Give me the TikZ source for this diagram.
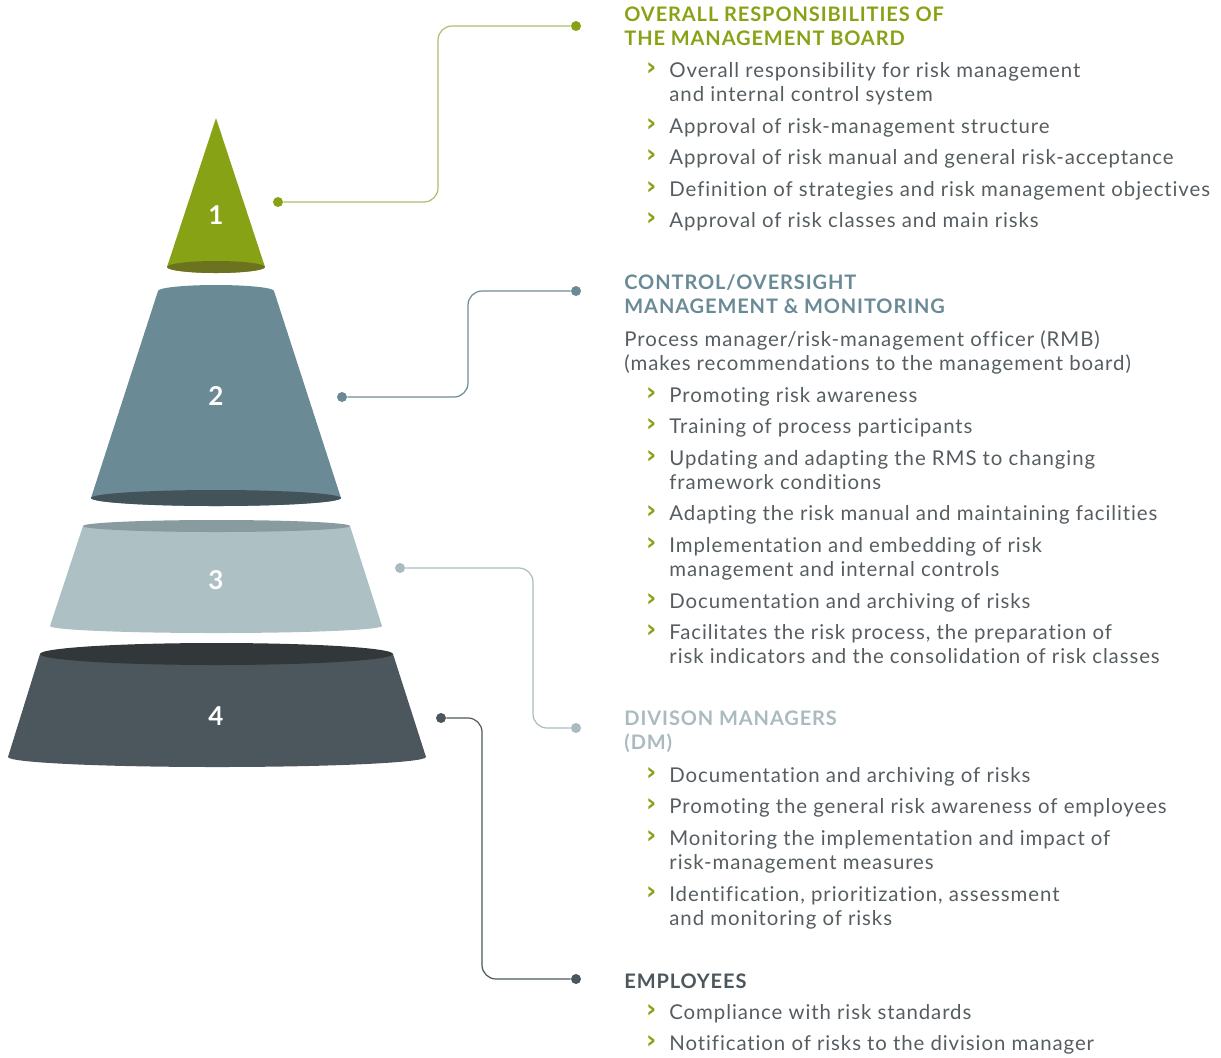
\documentclass[tikz,border=0pt]{standalone}
\usepackage{fontspec}
\setmainfont{Lato}[LetterSpace=4.5, Ligatures=NoCommon]
\newfontfamily\chevfont{DejaVu Sans}
\usepackage{tikz}

\definecolor{olv}{HTML}{87A315}
\definecolor{olvdark}{HTML}{6B7320}
\definecolor{olvline}{HTML}{A9C067}
\definecolor{blu}{HTML}{6A8A96}
\definecolor{bludark}{HTML}{43535A}
\definecolor{gry}{HTML}{ADC0C3}
\definecolor{grydark}{HTML}{889C9F}
\definecolor{grytxt}{HTML}{A9BBBF}
\definecolor{drk}{HTML}{4B575D}
\definecolor{drkdark}{HTML}{323739}
\definecolor{txtgray}{HTML}{565D61}

\newcommand{\chev}{\llap{\raisebox{0.6pt}{\textcolor{olv}{\chevfont\bfseries\fontsize{12.5}{12}\selectfont ›}}\hspace{6.5pt}}}

\begin{document}
\begin{tikzpicture}[
      x=0.5pt, y=-0.5pt,
      num/.style={text=white, font=\fontsize{13}{15}\selectfont\bfseries},
      head/.style={anchor=base west, inner sep=0, align=left, font=\fontsize{10}{12}\selectfont\bfseries},
      txt/.style={anchor=base west, inner sep=0, align=left, text=txtgray, font=\fontsize{10.2}{12}\selectfont},
      dot/.style={circle, fill, inner sep=0, minimum size=5pt},
      link/.style={line width=0.6pt, rounded corners=7pt}
    ]
    \useasboundingbox (0,0) rectangle (1221,1057);

    % the four cones
    \fill[olv] (167,267) -- (216,118) -- (265,267) arc[start angle=0, end angle=180, x radius=49, y radius=6] -- cycle;
    \fill[olvdark] (216,267) ellipse[x radius=49, y radius=6];

    \fill[blu] (158,291) arc[start angle=180, end angle=360, x radius=58, y radius=6] -- (341,498) arc[start angle=0, end angle=180, x radius=125, y radius=8] -- cycle;
    \fill[bludark] (216,498) ellipse[x radius=125, y radius=8];

    \fill[gry] (83,526) -- (50,626) arc[start angle=180, end angle=0, x radius=166, y radius=7] -- (350,526) -- cycle;
    \fill[grydark] (216.5,526) ellipse[x radius=133.5, y radius=6];

    \fill[drk] (40,654) -- (8,757) arc[start angle=180, end angle=0, x radius=209, y radius=10] -- (393,654) -- cycle;
    \fill[drkdark] (216.5,654) ellipse[x radius=176.5, y radius=11];

    \node[num] (n1) at (216,215) {1};
    \node[num] (n2) at (216,396) {2};
    \node[num] (n3) at (216,580) {3};
    \node[num] (n4) at (216,716) {4};

    % connectors
    \node[dot, olv] (d1a) at (278,202) {};
    \node[dot, olv] (d1b) at (576,26) {};
    \coordinate (k1) at (438,26);
    \draw[link, olvline] (d1a) -| (k1) -- (d1b);

    \node[dot, blu] (d2a) at (342,397) {};
    \node[dot, blu] (d2b) at (576,291) {};
    \coordinate (k2) at (468,291);
    \draw[link, blu] (d2a) -| (k2) -- (d2b);

    \node[dot, grytxt] (d3a) at (400,568) {};
    \node[dot, grytxt] (d3b) at (576,728) {};
    \coordinate (k3) at (533,728);
    \draw[link, grytxt] (d3a) -| (k3) -- (d3b);

    \node[dot, drk] (d4a) at (441,718) {};
    \node[dot, drk] (d4b) at (576,979) {};
    \coordinate (k4) at (482,979);
    \draw[link, drk] (d4a) -| (k4) -- (d4b);

    % management board (multi-line nodes sit on their last line)
    \node[head, text=olv] (h1) at (624,45) {OVERALL RESPONSIBILITIES OF\\THE MANAGEMENT BOARD};
    \node[txt] (b11) at (669,101) {\chev Overall responsibility for risk management\\and internal control system};
    \node[txt] (b12) at (669,133) {\chev Approval of risk-management structure};
    \node[txt] (b13) at (669,164) {\chev Approval of risk manual and general risk-acceptance};
    \node[txt] (b14) at (669,196) {\chev Definition of strategies and risk management objectives};
    \node[txt] (b15) at (669,227) {\chev Approval of risk classes and main risks};

    % control / oversight
    \node[head, text=blu] (h2) at (624,313) {CONTROL/OVERSIGHT\\MANAGEMENT \& MONITORING};
    \node[txt] (p2) at (624,370) {Process manager/risk-management officer (RMB)\\(makes recommendations to the management board)};
    \node[txt] (b21) at (669,402) {\chev Promoting risk awareness};
    \node[txt] (b22) at (669,433) {\chev Training of process participants};
    \node[txt] (b23) at (669,489) {\chev Updating and adapting the RMS to changing\\framework conditions};
    \node[txt] (b24) at (669,520) {\chev Adapting the risk manual and maintaining facilities};
    \node[txt] (b25) at (669,576) {\chev Implementation and embedding of risk\\management and internal controls};
    \node[txt] (b26) at (669,608) {\chev Documentation and archiving of risks};
    \node[txt] (b27) at (669,663) {\chev Facilitates the risk process, the preparation of\\risk indicators and the consolidation of risk classes};

    % division managers
    \node[head, text=grytxt] (h3) at (624,749) {DIVISON MANAGERS\\(DM)};
    \node[txt] (b31) at (669,782) {\chev Documentation and archiving of risks};
    \node[txt] (b32) at (669,813) {\chev Promoting the general risk awareness of employees};
    \node[txt] (b33) at (669,869) {\chev Monitoring the implementation and impact of\\risk-management measures};
    \node[txt] (b34) at (669,925) {\chev Identification, prioritization, assessment\\and monitoring of risks};

    % employees
    \node[head, text=drk] (h4) at (624,988) {EMPLOYEES};
    \node[txt] (b41) at (669,1019) {\chev Compliance with risk standards};
    \node[txt] (b42) at (669,1050) {\chev Notification of risks to the division manager};
\end{tikzpicture}
\end{document}
